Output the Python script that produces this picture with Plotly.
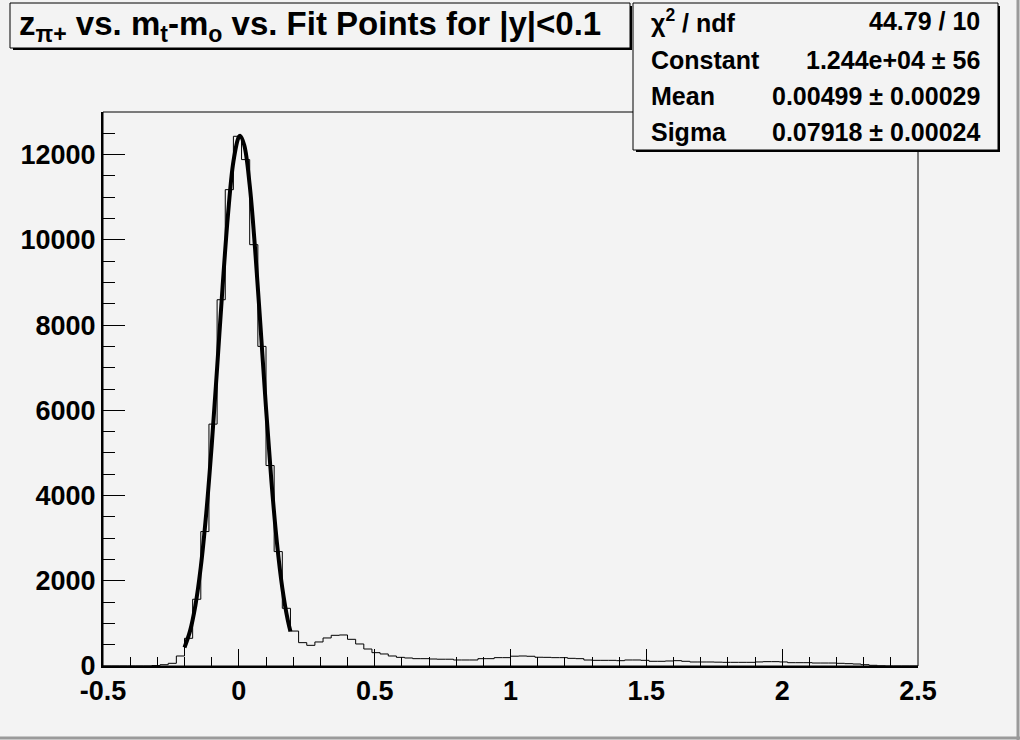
import plotly.graph_objects as go

# ---------------- data ----------------
bin_low = -0.5
bin_width = 0.03
counts = [
    0, 0, 0, 0, 0, 0, 10, 30, 63, 235,
    650, 1566, 3155, 5676, 8595, 11178, 12430, 11883, 9887, 7500,
    4704, 2685, 1354, 820, 548, 485, 564, 658, 720, 728,
    626, 517, 399, 313, 282, 235, 203, 188, 172, 172,
    164, 159, 159, 141, 141, 141, 172, 172, 196, 196,
    230, 235, 228, 205, 203, 196, 196, 180, 172, 140,
    133, 133, 133, 125, 141, 141, 133, 110, 110, 118,
    125, 110, 94, 94, 94, 90, 86, 86, 86, 86,
    95, 102, 102, 95, 78, 78, 78, 70, 70, 70,
    63, 55, 47, 31, 16, 5, 0, 0, 0, 0,
]
fit_x = [-0.20, -0.18, -0.16, -0.14, -0.12, -0.10, -0.08, -0.06, -0.04, -0.02,
         0.00, 0.005, 0.02, 0.04, 0.06, 0.08, 0.10, 0.12, 0.14, 0.16, 0.18, 0.19]
fit_y = [436, 812, 1418, 2326, 3578, 5164, 6991, 8881, 10585, 11835,
         12415, 12440, 12219, 11282, 9774, 7943, 6055, 4333, 2907, 1831, 1082, 812]

x_tickvals = [-0.5, 0, 0.5, 1, 1.5, 2, 2.5]
x_ticktext = ["-0.5", "0", "0.5", "1", "1.5", "2", "2.5"]
y_tickvals = [0, 2000, 4000, 6000, 8000, 10000, 12000]
y_ticktext = ["0", "2000", "4000", "6000", "8000", "10000", "12000"]

title_text = "z<sub>π+</sub> vs. m<sub>t</sub>-m<sub>o</sub> vs. Fit Points for |y|&lt;0.1"
stat_labels = ["χ<sup>2</sup> / ndf", "Constant", "Mean", "Sigma"]
stat_values = ["44.79 / 10", "1.244e+04 ± 56", "0.00499 ± 0.00029", "0.07918 ± 0.00024"]

# ---------------- layout geometry ----------------
W, H = 1020, 740
L, R, T, B = 103, 918, 112, 666
BG = "#f3f3f3"
FONT = "Liberation Sans, Arial, Helvetica, sans-serif"


def px(x):
    return (x - L) / (R - L)


def py(y):
    return (B - y) / (B - T)


edges = [bin_low + bin_width * i for i in range(len(counts) + 1)]
step_y = counts + [counts[-1]]

fig = go.Figure()
fig.add_trace(go.Scatter(x=edges, y=step_y, mode="lines", line_shape="hv",
                         line=dict(color="black", width=1), hoverinfo="skip",
                         showlegend=False))
fig.add_trace(go.Scatter(x=fit_x, y=fit_y, mode="lines", line_shape="spline",
                         line=dict(color="black", width=4), hoverinfo="skip",
                         showlegend=False))

shapes = []
# plot frame (thin)
shapes.append(dict(type="rect", xref="paper", yref="paper", x0=0, x1=1, y0=0, y1=1,
                   line=dict(color="black", width=1), layer="above"))
# canvas border
shapes.append(dict(type="line", xref="paper", yref="paper", x0=px(W - 2), x1=px(W - 2),
                   y0=py(0), y1=py(H), line=dict(color="#9a9a9a", width=3), layer="above"))
shapes.append(dict(type="line", xref="paper", yref="paper", x0=px(0), x1=px(W),
                   y0=py(H - 2), y1=py(H - 2), line=dict(color="#9a9a9a", width=3), layer="above"))


def box(x0, y0, x1, y1):
    # shadow
    shapes.append(dict(type="rect", xref="paper", yref="paper",
                       x0=px(x0 + 3), x1=px(x1 + 2), y0=py(y1 + 2), y1=py(y0 + 3),
                       fillcolor="black", line=dict(width=0), layer="above"))
    shapes.append(dict(type="rect", xref="paper", yref="paper",
                       x0=px(x0), x1=px(x1), y0=py(y1), y1=py(y0),
                       fillcolor=BG, line=dict(color="black", width=1), layer="above"))


box(10, 3, 630, 48)
box(633, 3, 998, 150)
fig.update_layout(shapes=shapes)

annotations = [dict(text=title_text, xref="paper", yref="paper", x=px(310), y=py(26),
                    xanchor="center", yanchor="middle", showarrow=False,
                    font=dict(family=FONT, size=33, color="black", weight="bold"))]
row_y = [21, 60, 96, 132]
for lab, val, yy in zip(stat_labels, stat_values, row_y):
    annotations.append(dict(text=lab, xref="paper", yref="paper", x=px(649), y=py(yy),
                            xanchor="left", yanchor="middle", showarrow=False,
                            font=dict(family=FONT, size=25, color="black", weight="bold")))
    annotations.append(dict(text=val, xref="paper", yref="paper", x=px(982), y=py(yy),
                            xanchor="right", yanchor="middle", showarrow=False,
                            font=dict(family=FONT, size=25, color="black", weight="bold")))
fig.update_layout(annotations=annotations)

fig.update_layout(
    width=W, height=H,
    margin=dict(l=L, r=W - R, t=T, b=H - B, pad=0),
    paper_bgcolor=BG, plot_bgcolor=BG,
    hovermode=False,
    font=dict(family=FONT, color="black"),
    xaxis=dict(range=[-0.5, 2.5], tickvals=x_tickvals, ticktext=x_ticktext,
               ticks="inside", ticklen=17, tickwidth=1, tickcolor="black",
               minor=dict(dtick=0.1, tick0=0, ticks="inside", ticklen=9, tickwidth=1,
                          tickcolor="black", showgrid=False),
               showline=True, linewidth=2, linecolor="black",
               showgrid=False, zeroline=False,
               tickfont=dict(family=FONT, size=27, color="black", weight="bold")),
    yaxis=dict(range=[0, 13000], tickvals=y_tickvals, ticktext=y_ticktext,
               ticks="inside", ticklen=22, tickwidth=1, tickcolor="black",
               minor=dict(dtick=500, tick0=0, ticks="inside", ticklen=12, tickwidth=1,
                          tickcolor="black", showgrid=False),
               showline=True, linewidth=2, linecolor="black",
               showgrid=False, zeroline=False,
               tickfont=dict(family=FONT, size=27, color="black", weight="bold")),
)

fig.write_html("out.html", config={"displayModeBar": False},
               post_script="document.body.style.margin='0px';")
